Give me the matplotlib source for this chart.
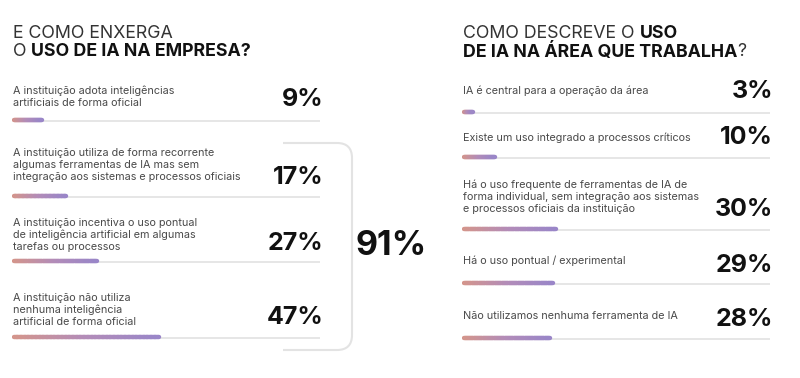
import matplotlib.pyplot as plt
import numpy as np
from matplotlib.collections import LineCollection
from matplotlib.colors import LinearSegmentedColormap
from matplotlib.path import Path
from matplotlib.patches import PathPatch

plt.rcParams['font.family'] = ['Inter', 'DejaVu Sans']

# left panel: how the company sees AI use
left_labels = [
    "A instituição adota inteligências\nartificiais de forma oficial",
    "A instituição utiliza de forma recorrente\nalgumas ferramentas de IA mas sem\nintegração aos sistemas e processos oficiais",
    "A instituição incentiva o uso pontual\nde inteligência artificial em algumas\ntarefas ou processos",
    "A instituição não utiliza\nnenhuma inteligência\nartificial de forma oficial",
]
left_values = [9, 17, 27, 47]
left_total = 91

# right panel: AI use in the area where the respondent works
right_labels = [
    "IA é central para a operação da área",
    "Existe um uso integrado a processos críticos",
    "Há o uso frequente de ferramentas de IA de\nforma individual, sem integração aos sistemas\ne processos oficiais da instituição",
    "Há o uso pontual / experimental",
    "Não utilizamos nenhuma ferramenta de IA",
]
right_values = [3, 10, 30, 29, 28]

# layout (pixel rows, top down)
left_text_y = [97, 165, 235, 310]
left_pct_y = [100, 177, 243, 318]
left_bar_y = [120, 196, 261, 337]
right_text_y = [91, 138, 197, 261, 316]
right_pct_y = [92, 138, 210, 265, 320]
right_bar_y = [112, 157, 229, 283, 338]

W, H = 800, 378
PX = 3.08  # pixels per percent
fig = plt.figure(figsize=(8, 3.78), dpi=100)
fig.patch.set_facecolor('white')

grad = LinearSegmentedColormap.from_list('g', ['#d4958c', '#b38cb8', '#9a86c8'])
TEXT = '#4a4a4a'
TRACK = '#e6e6e6'


def panel(x0, title1, title2_parts, labels, values, text_y, pct_y, bar_y):
    ax = fig.add_axes([x0 / W, 0, 100 * PX / W, 1])
    ax.set_xlim(0, 100)
    ax.set_ylim(H, 0)
    ax.axis('off')
    # title
    ax.text(0.3, 33, title1, fontsize=12.8, color='#333333', va='center')
    tx = 0.3
    for part, weight, col in title2_parts:
        t = ax.text(tx, 52, part, fontsize=12.8, color=col, va='center', fontweight=weight)
        fig.canvas.draw()
        bb = t.get_window_extent()
        tx = ax.transData.inverted().transform((bb.x1, 0))[0]
    for lab, v, ty, py, by in zip(labels, values, text_y, pct_y, bar_y):
        ax.text(0.3, ty, lab, fontsize=7.8, color=TEXT, va='center', linespacing=1.25)
        ax.text(101, py, f"{v}%", fontsize=18, fontweight='bold', color='#111111',
                va='center', ha='right')
        ax.plot([0.5, 100.2], [by + 0.8, by + 0.8], color=TRACK, lw=1.4,
                solid_capstyle='round', zorder=1)
        xs = np.linspace(0.5, v + 0.6, 40)
        segs = [[(xs[i], by), (xs[i + 1], by)] for i in range(len(xs) - 1)]
        lc = LineCollection(segs, colors=grad(np.linspace(0, 1, len(segs))),
                            linewidths=3.2, capstyle='round', zorder=2)
        ax.add_collection(lc)
    return ax


axl = panel(12, "E COMO ENXERGA",
            [("O ", 'normal', '#333333'), ("USO DE IA NA EMPRESA?", 'bold', '#111111')],
            left_labels, left_values, left_text_y, left_pct_y, left_bar_y)

# bracket around the last three rows
x_a = (283 - 12) / PX
x_b = (352 - 12) / PX
r_x = 15 / PX
r_y = 15
y_t, y_b = 143, 350
verts = [(x_a, y_t), (x_b - r_x, y_t), (x_b, y_t), (x_b, y_t + r_y),
         (x_b, y_b - r_y), (x_b, y_b), (x_b - r_x, y_b), (x_a, y_b)]
codes = [Path.MOVETO, Path.LINETO, Path.CURVE3, Path.CURVE3,
         Path.LINETO, Path.CURVE3, Path.CURVE3, Path.LINETO]
axl.add_patch(PathPatch(Path(verts, codes), fill=False, edgecolor='#e3e3e3', lw=1.5,
                        clip_on=False))
axl.text((391 - 12) / PX, 246, f"{left_total}%", fontsize=24.5, fontweight='bold',
         color='#111111', ha='center', va='center', clip_on=False)

axr = panel(462, "COMO DESCREVE O ",
            [("DE IA NA ÁREA QUE TRABALHA", 'bold', '#111111'), ("?", 'normal', '#333333')],
            right_labels, right_values, right_text_y, right_pct_y, right_bar_y)
# bold "USO" closing the first title line of the right panel
fig.canvas.draw()
bb = axr.texts[0].get_window_extent()
ux = axr.transData.inverted().transform((bb.x1, 0))[0]
axr.text(ux, 33, "USO", fontsize=12.8, fontweight='bold', color='#111111', va='center')

fig.savefig('out.png', dpi=100, facecolor='white')
